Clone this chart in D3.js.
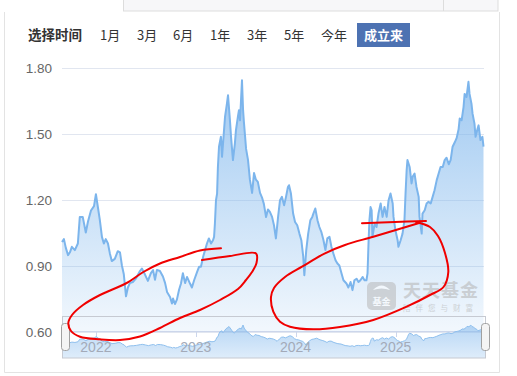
<!DOCTYPE html>
<html><head><meta charset="utf-8">
<script src="https://cdn.jsdelivr.net/npm/d3@7"></script>
<style>
body{margin:0;background:#fff;}
svg{display:block;font-family:"Liberation Sans","Noto Sans CJK SC",sans-serif;}
</style></head><body>
<svg id="c" width="517" height="376"></svg>
<script>
// ---------- data ----------
const rangeButtons = ["1月","3月","6月","1年","3年","5年","今年","成立来"];
const rangeTitle = "选择时间";
const activeButton = "成立来";
const yTicks = [0.60, 0.90, 1.20, 1.50, 1.80];
const yearTicks = ["2022","2023","2024","2025"];

const dates = [
"2021-08-30","2021-09-06","2021-09-13","2021-09-21","2021-09-28","2021-10-05","2021-10-16","2021-10-27","2021-11-03","2021-11-14","2021-11-25","2021-12-03","2021-12-14","2021-12-25",
"2022-01-01","2022-01-08","2022-01-15","2022-01-23","2022-01-30","2022-02-06","2022-02-14","2022-02-21","2022-02-28","2022-03-11","2022-03-22","2022-03-30","2022-04-06","2022-04-13","2022-04-21","2022-04-28","2022-05-05","2022-05-16","2022-05-27","2022-06-11","2022-06-18","2022-06-29","2022-07-10","2022-07-21","2022-07-29","2022-08-05","2022-08-12","2022-08-23","2022-09-03","2022-09-11","2022-09-18","2022-09-29","2022-10-06","2022-10-10","2022-10-17","2022-10-24","2022-11-01","2022-11-08","2022-11-15","2022-11-23","2022-11-30","2022-12-11","2022-12-18","2022-12-26",
"2023-01-06","2023-01-13","2023-01-20","2023-01-28","2023-02-04","2023-02-11","2023-02-18","2023-02-26","2023-03-05","2023-03-09","2023-03-12","2023-03-16","2023-03-20","2023-03-23","2023-03-27","2023-04-03","2023-04-07","2023-04-11","2023-04-18","2023-04-25","2023-04-29","2023-05-06","2023-05-10","2023-05-17","2023-05-24","2023-05-28","2023-06-04","2023-06-08","2023-06-12","2023-06-19","2023-06-23","2023-06-26","2023-07-04","2023-07-11","2023-07-18","2023-07-26","2023-08-02","2023-08-09","2023-08-16","2023-08-24","2023-08-31","2023-09-07","2023-09-15","2023-09-22","2023-09-29","2023-10-07","2023-10-14","2023-10-21","2023-10-29","2023-11-05","2023-11-12","2023-11-20","2023-11-27","2023-12-04","2023-12-08","2023-12-15","2023-12-23","2023-12-30",
"2024-01-07","2024-01-15","2024-01-22","2024-01-29","2024-02-02","2024-02-09","2024-02-16","2024-02-24","2024-03-02","2024-03-06","2024-03-13","2024-03-21","2024-03-28","2024-04-04","2024-04-12","2024-04-19","2024-04-26","2024-05-04","2024-05-11","2024-05-18","2024-05-26","2024-06-02","2024-06-09","2024-06-17","2024-06-24","2024-07-05","2024-07-12","2024-07-20","2024-07-27","2024-08-03","2024-08-11","2024-08-18","2024-08-25","2024-09-02","2024-09-09","2024-09-16","2024-09-20","2024-09-24","2024-09-27","2024-10-01","2024-10-05","2024-10-08","2024-10-16","2024-10-23","2024-10-30","2024-11-07","2024-11-14","2024-11-21","2024-11-29","2024-12-06","2024-12-13","2024-12-21","2024-12-24","2024-12-31",
"2025-01-08","2025-01-11","2025-01-19","2025-01-26","2025-02-02","2025-02-06","2025-02-10","2025-02-13","2025-02-21","2025-02-28","2025-03-04","2025-03-11","2025-03-18","2025-03-26","2025-03-29","2025-04-06","2025-04-09","2025-04-17","2025-04-24","2025-05-01","2025-05-09","2025-05-16","2025-05-23","2025-05-31","2025-06-07","2025-06-14","2025-06-22","2025-06-29","2025-07-06","2025-07-14","2025-07-21","2025-07-28","2025-08-05","2025-08-12","2025-08-19","2025-08-23","2025-08-30","2025-09-06","2025-09-10","2025-09-17","2025-09-24","2025-09-28","2025-10-05","2025-10-09","2025-10-16","2025-10-20","2025-10-27","2025-10-31","2025-11-07","2025-11-14","2025-11-18"
];
const navValues = [
1.007,1.02,0.98,0.947,0.96,0.985,0.97,1.0,1.12,1.12,1.05,1.10,1.15,1.17,
1.224,1.167,1.11,1.03,1.00,1.02,1.0,0.955,0.92,0.93,0.965,0.96,0.90,0.86,0.76,0.80,0.82,0.825,0.84,0.875,0.886,0.86,0.83,0.865,0.879,0.835,0.88,0.875,0.85,0.82,0.78,0.757,0.727,0.75,0.725,0.745,0.79,0.818,0.865,0.82,0.848,0.818,0.80,0.833,
0.871,0.894,0.894,0.94,0.97,1.0,1.023,1.0,1.015,1.03,1.09,1.197,1.227,1.348,1.44,1.485,1.394,1.46,1.575,1.636,1.674,1.56,1.485,1.379,1.454,1.515,1.575,1.606,1.56,1.742,1.606,1.553,1.43,1.38,1.29,1.23,1.32,1.29,1.28,1.23,1.21,1.18,1.12,1.155,1.144,1.121,1.083,1.023,1.121,1.197,1.212,1.174,1.212,1.257,1.265,1.227,1.136,1.098,
1.083,1.045,1.015,0.94,0.856,0.97,1.045,1.106,1.121,1.136,1.159,1.106,1.075,1.053,1.015,0.97,1.023,1.03,0.985,0.955,0.924,0.909,0.90,0.864,0.833,0.818,0.80,0.825,0.788,0.833,0.84,0.825,0.833,0.848,0.833,0.833,0.864,1.015,1.106,1.166,1.151,1.03,1.09,1.075,1.136,1.182,1.121,1.166,1.121,1.197,1.227,1.182,1.121,1.06,
1.015,0.985,1.015,1.045,1.106,1.227,1.333,1.379,1.348,1.273,1.303,1.318,1.257,1.212,1.121,1.045,1.136,1.151,1.182,1.19,1.182,1.212,1.242,1.288,1.318,1.348,1.348,1.379,1.39,1.36,1.38,1.44,1.46,1.48,1.52,1.568,1.56,1.62,1.68,1.666,1.735,1.68,1.636,1.59,1.545,1.485,1.52,1.537,1.47,1.485,1.44
];
const watermarkTitle = "天天基金";
const watermarkSlogan = "陪伴您与财富";
const watermarkIcon = "基金";

// ---------- build ----------
const parse = d3.timeParse("%Y-%m-%d");
const data = dates.map((d,i)=>({date:parse(d), v:navValues[i]}));
const svg = d3.select("#c");
const defs = svg.append("defs");

// page frame
svg.append("rect").attr("x",123.5).attr("y",-1).attr("width",374.5).attr("height",12)
  .attr("fill","#f7f7f9").attr("stroke","#dddddd");
svg.append("line").attr("x1",443.5).attr("x2",443.5).attr("y1",0).attr("y2",11).attr("stroke","#dddddd");
svg.append("path").attr("d","M4.5,12 V372.5 H499.5 V12").attr("fill","none").attr("stroke","#e3e3e3");

// range selector
svg.append("text").attr("x",28).attr("y",40).attr("font-size",13.5).attr("font-weight","bold")
  .attr("fill","#333").attr("font-family","Noto Sans CJK SC").text(rangeTitle);
const btnX = {"1月":100,"3月":137,"6月":173,"1年":210,"3年":247,"5年":284,"今年":321,"成立来":357};
rangeButtons.forEach(b=>{
  const x0 = btnX[b];
  if(b===activeButton){
    svg.append("rect").attr("x",x0).attr("y",23).attr("width",53).attr("height",24).attr("fill","#4d72b2");
    svg.append("text").attr("x",x0+26.5).attr("y",40).attr("text-anchor","middle").attr("font-size",13)
      .attr("font-weight","bold").attr("fill","#fff").attr("font-family","Noto Sans CJK SC").text(b);
  } else {
    svg.append("text").attr("x",x0).attr("y",40).attr("font-size",13).attr("fill","#333")
      .attr("font-family","Noto Sans CJK SC").text(b);
  }
});

// scales
const x = d3.scaleTime().domain(d3.extent(data,d=>d.date)).range([62,483.5]);
const y = d3.scaleLinear().domain([0.6,1.8]).range([331.5,67.5]);

// grid
svg.append("g").selectAll("line").data(yTicks).join("line")
  .attr("x1",62).attr("x2",484).attr("y1",d=>Math.round(y(d))+0.5).attr("y2",d=>Math.round(y(d))+0.5)
  .attr("stroke","#e1e6f0");
svg.append("g").selectAll("text").data(yTicks).join("text")
  .attr("x",52).attr("y",d=>y(d)+5).attr("text-anchor","end").attr("font-size",13.5).attr("fill","#666")
  .text(d=>d3.format(".2f")(d));

// main area gradient
const g1 = defs.append("linearGradient").attr("id","ga").attr("gradientUnits","userSpaceOnUse")
  .attr("x1",0).attr("x2",0).attr("y1",y(d3.max(navValues))).attr("y2",331.5);
g1.append("stop").attr("offset",0).attr("stop-color","#7cb5ec").attr("stop-opacity",0.72);
g1.append("stop").attr("offset",1).attr("stop-color","#7cb5ec").attr("stop-opacity",0.1);

svg.append("path").datum(data).attr("fill","url(#ga)")
  .attr("d",d3.area().x(d=>x(d.date)).y0(331.5).y1(d=>y(d.v)));
svg.append("path").datum(data).attr("fill","none").attr("stroke","#7cb5ec").attr("stroke-width",2)
  .attr("stroke-linejoin","round")
  .attr("d",d3.line().x(d=>x(d.date)).y(d=>y(d.v)));

// x axis line + ticks + labels
svg.append("line").attr("x1",62).attr("x2",484).attr("y1",331.5).attr("y2",331.5).attr("stroke","#ccd6eb");
const yearDates = yearTicks.map(t=>parse(t+"-01-01"));
svg.append("g").selectAll("line").data(yearDates).join("line")
  .attr("x1",d=>Math.round(x(d))+0.5).attr("x2",d=>Math.round(x(d))+0.5).attr("y1",331.5).attr("y2",337)
  .attr("stroke","#ccd6eb");

// navigator
const nx = d3.scaleTime().domain(d3.extent(data,d=>d.date)).range([62,486]);
const ny = d3.scaleLinear().domain(d3.extent(navValues)).range([348,325]);
const g2 = defs.append("linearGradient").attr("id","gn").attr("x1",0).attr("x2",0).attr("y1",0).attr("y2",1);
g2.append("stop").attr("offset",0).attr("stop-color","#7cb5ec").attr("stop-opacity",0.55);
g2.append("stop").attr("offset",1).attr("stop-color","#7cb5ec").attr("stop-opacity",0.25);
svg.append("path").datum(data).attr("fill","url(#gn)")
  .attr("d",d3.area().x(d=>nx(d.date)).y0(358).y1(d=>ny(d.v)));
svg.append("path").datum(data).attr("fill","none").attr("stroke","#8fc0ee").attr("stroke-width",1)
  .attr("d",d3.line().x(d=>nx(d.date)).y(d=>ny(d.v)));
svg.append("g").selectAll("text").data(yearDates).join("text")
  .attr("x",d=>x(d)).attr("y",352).attr("text-anchor","middle").attr("font-size",14).attr("fill","#a3aab8")
  .text((d,i)=>yearTicks[i]);
svg.append("rect").attr("x",62.5).attr("y",316.5).attr("width",423).attr("height",41.5)
  .attr("fill","none").attr("stroke","#c6cad2");
[61.5,481.5].forEach(hx=>{
  svg.append("rect").attr("x",hx).attr("y",323.5).attr("width",8).attr("height",27).attr("rx",3)
    .attr("fill","#f4f4f4").attr("stroke","#a0a0a0");
});

// watermark
const wm = svg.append("g").attr("opacity",0.55);
wm.append("rect").attr("x",367).attr("y",282).attr("width",29).attr("height",28).attr("rx",5).attr("fill","#b8b8b8");
wm.append("path").attr("d","M373,290 Q381.5,281 390,290 Q381.5,287 373,290 Z").attr("fill","#fff");
wm.append("text").attr("x",381.5).attr("y",305).attr("text-anchor","middle").attr("font-size",9)
  .attr("font-weight","bold").attr("fill","#fff").attr("font-family","Noto Sans CJK SC").text(watermarkIcon);
wm.append("text").attr("x",403).attr("y",297).attr("font-size",18).attr("font-weight","bold")
  .attr("fill","#b4b4b4").attr("letter-spacing",1).attr("font-family","Noto Sans CJK SC").text(watermarkTitle);
wm.append("text").attr("x",403).attr("y",311).attr("font-size",7.5).attr("fill","#b4b4b4")
  .attr("letter-spacing",5).attr("font-family","Noto Sans CJK SC").text(watermarkSlogan);

// red hand-drawn annotations
const pen = d3.line().curve(d3.curveCatmullRom.alpha(0.5));
const red = p=>svg.append("path").attr("d",pen(p)).attr("fill","none").attr("stroke","#f00000")
  .attr("stroke-width",2).attr("stroke-linecap","round").attr("stroke-linejoin","round");
red([[202,260],[230,256],[256,253.5],[256.5,263],[252,272],[246,280],[238,289],[220,300],[200,310],[180,318],[160,328],[140,336.5],[120,340],[100,339.3],[80,336.7],[71,331],[68.3,323],[72,315],[83,305],[100,295],[126.7,283],[143.3,272],[160,263.5],[180,257],[200,250.5],[221,248.3]]);
red([[362,223.3],[395,222],[426,221]]);
red([[416,222],[430,227],[438,236],[445,253],[448.3,272],[443.5,287],[430,295],[406.7,306.7],[373.3,320],[340,327],[313.3,329.3],[290,326.7],[280,321.7],[273.3,311.7],[271,297],[274,288],[285,277],[302,266.7],[325,253.3],[345,245],[373.3,236.7],[406.7,226.7],[420,222.7]]);
</script>
</body></html>
